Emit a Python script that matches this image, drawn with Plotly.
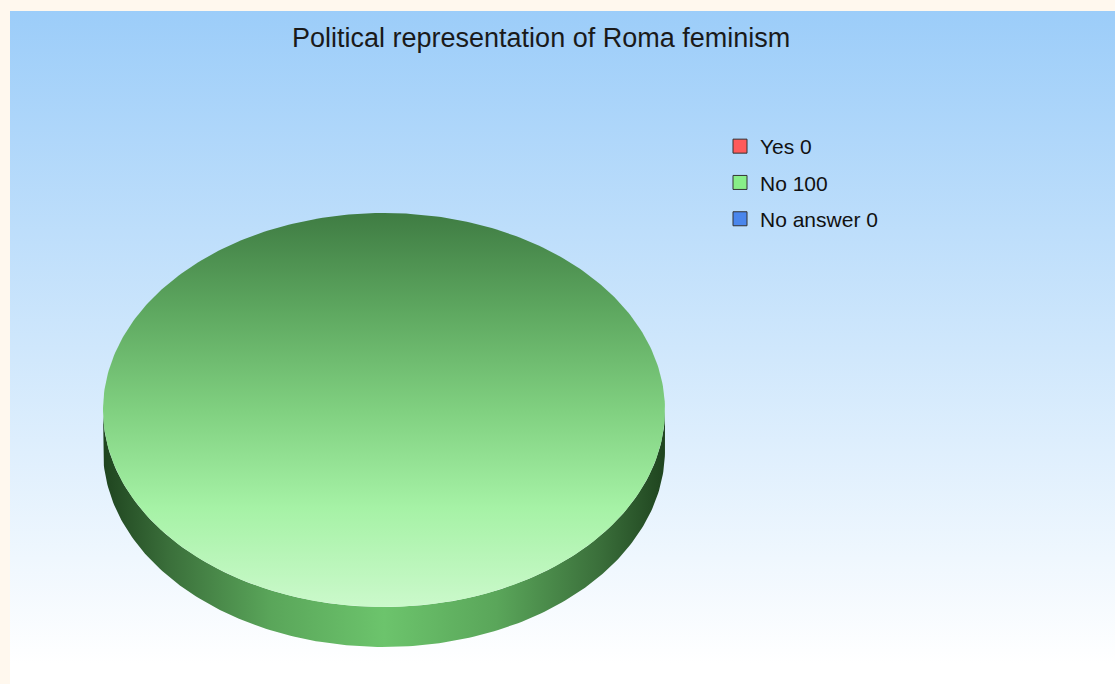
import numpy as np
import plotly.graph_objects as go

# ---- data ----
categories = ["Yes", "No", "No answer"]
values = [0, 100, 0]
title_text = "Political representation of Roma feminism"

# ---- styles ----
base_colors = ["#ff5a5a", "#88ee88", "#4a86ec"]
top_scales = [
    [[0, "#8a3a3a"], [1, "#ffc8c8"]],
    [[0, "#3f7c43"], [0.25, "#5ea860"], [0.5, "#80d080"], [0.75, "#a6f2a6"], [1, "#cbf9cb"]],
    [[0, "#2a4f8a"], [1, "#c8dcff"]],
]
side_scales = [
    [[0, "#4a1a1a"], [0.5, "#c05050"], [1, "#4a1a1a"]],
    [[0, "#1f441f"], [0.12, "#3b703b"], [0.3, "#5aa65a"], [0.5, "#6cc46c"], [0.7, "#5aa65a"], [0.88, "#3b703b"], [1, "#1f441f"]],
    [[0, "#1a2a4a"], [0.5, "#4a7ac0"], [1, "#1a2a4a"]],
]

W, H = 1115, 684
CX, CY, RX, RY, DEPTH = 384, 410, 281, 197, 40

fig = go.Figure()

# background gradient panel
bx0, by0 = 10, 11
fig.add_trace(go.Scatter(
    x=[bx0, W, W, bx0, bx0], y=[by0, by0, H, H, by0], mode="lines",
    line=dict(width=0), fill="toself",
    fillgradient=dict(type="vertical", start=by0, stop=H,
                      colorscale=[[0, "#9ccdf9"], [0.5, "#cfe7fc"], [0.97, "#ffffff"], [1, "#ffffff"]]),
    hoverinfo="skip", showlegend=False))

total = sum(values)
angles = [-np.pi / 2]
for v in values:
    angles.append(angles[-1] + 2 * np.pi * v / total)

# sides (front visible part)
for i, v in enumerate(values):
    if v <= 0:
        continue
    a0, a1 = angles[i], angles[i + 1]
    for k in range(-1, 3):
        lo = max(a0, 2 * np.pi * k)
        hi = min(a1, 2 * np.pi * k + np.pi)
        if hi <= lo:
            continue
        t = np.linspace(lo, hi, 200)
        xs = CX + RX * np.cos(t)
        ys = CY + RY * np.sin(t)
        px = np.concatenate([xs, xs[::-1], xs[:1]])
        py = np.concatenate([ys, ys[::-1] + DEPTH, ys[:1]])
        fig.add_trace(go.Scatter(
            x=px, y=py, mode="lines", line=dict(width=0), fill="toself",
            fillgradient=dict(type="horizontal", start=CX - RX, stop=CX + RX,
                              colorscale=side_scales[i]),
            hoverinfo="skip", showlegend=False))

# top faces
for i, v in enumerate(values):
    if v <= 0:
        continue
    a0, a1 = angles[i], angles[i + 1]
    t = np.linspace(a0, a1, 400)
    xs = CX + RX * np.cos(t)
    ys = CY + RY * np.sin(t)
    if v < total:
        xs = np.concatenate([[CX], xs, [CX]])
        ys = np.concatenate([[CY], ys, [CY]])
    fig.add_trace(go.Scatter(
        x=xs, y=ys, mode="lines", line=dict(width=0), fill="toself",
        fillgradient=dict(type="vertical", start=CY - RY, stop=CY + RY,
                          colorscale=top_scales[i]),
        name=f"{categories[i]} {v}", hoverinfo="name", showlegend=False))

# legend entries
for i, (c, v) in enumerate(zip(categories, values)):
    fig.add_trace(go.Scatter(
        x=[None], y=[None], mode="markers", name=f"{c} {v}",
        legendgroup=f"g{i}",
        marker=dict(symbol="square", size=14, color=base_colors[i],
                    line=dict(color="#333333", width=1))))

fig.update_layout(
    width=W, height=H, margin=dict(l=0, r=0, t=0, b=0),
    paper_bgcolor="#fff8ee", plot_bgcolor="rgba(0,0,0,0)",
    font=dict(family="Liberation Sans, Arial, sans-serif", color="#111111"),
    xaxis=dict(range=[0, W], visible=False, fixedrange=True),
    yaxis=dict(range=[H, 0], visible=False, fixedrange=True),
    showlegend=True,
    legend=dict(x=720 / W, y=1 - 126 / H, xanchor="left", yanchor="top",
                bgcolor="rgba(0,0,0,0)", font=dict(size=21, color="#111111"),
                tracegroupgap=6, itemwidth=30),
    annotations=[dict(text=title_text, x=541 / W, y=1 - 38 / H, xref="paper", yref="paper",
                      showarrow=False, xanchor="center", yanchor="middle",
                      font=dict(size=27, color="#1a1a1a"))],
)

fig.write_html("out.html")
